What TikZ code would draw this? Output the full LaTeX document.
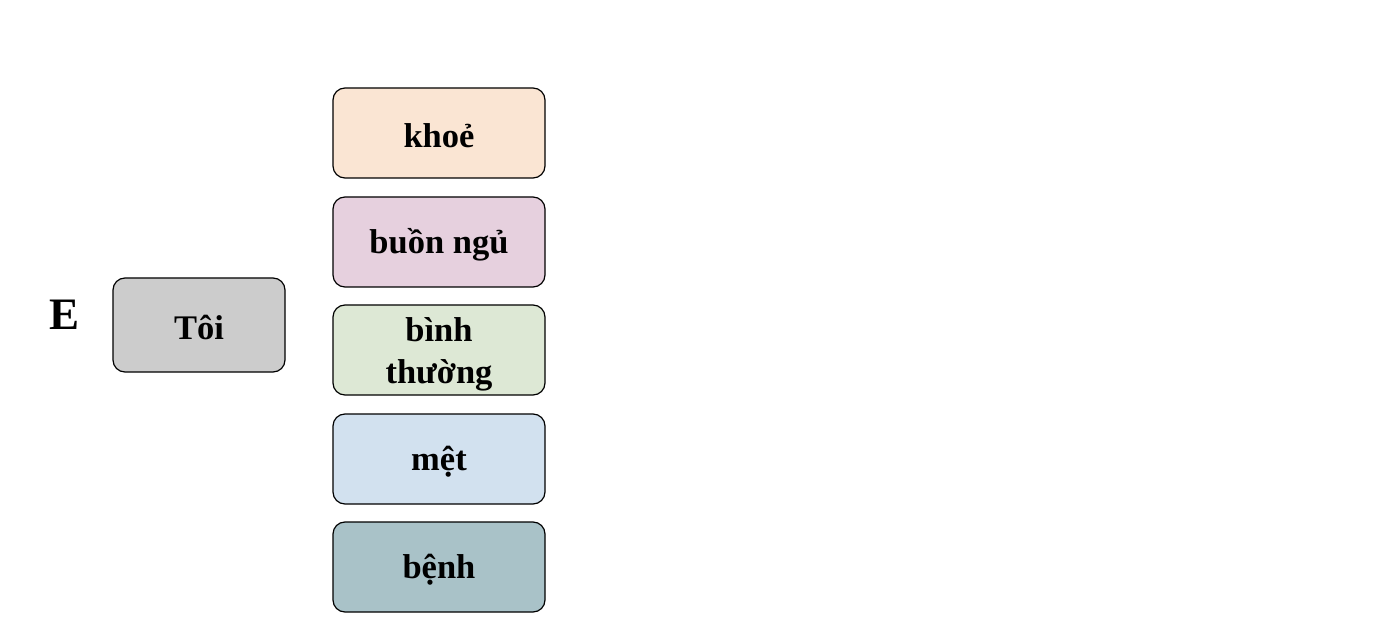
\documentclass[tikz,border=0pt]{standalone}
\usepackage{fontspec}
\setmainfont{Liberation Serif}
\begin{document}
\begin{tikzpicture}[x=1pt,y=-1pt,
  card/.style={draw=black, line width=1.2pt, rounded corners=12pt,
    minimum width=212pt, minimum height=90pt, inner sep=0pt},
  subj/.style={card, minimum width=172pt, minimum height=94pt},
  cardtext/.style={inner sep=0pt, font=\fontsize{34.5}{42}\selectfont\bfseries, align=center}]
\useasboundingbox (0,0) rectangle (1376,644);
\definecolor{cKhoe}{HTML}{FAE5D3}
\definecolor{cBuon}{HTML}{E6D0DE}
\definecolor{cBinh}{HTML}{DDE8D5}
\definecolor{cMet}{HTML}{D2E1EF}
\definecolor{cBenh}{HTML}{A9C2C8}
\definecolor{cToi}{HTML}{CCCCCC}
\node[font=\fontsize{45}{50}\selectfont\bfseries] (E) at (65,315) {E};
\node[subj, fill=cToi] (toi) at (199,325) {};
\node[cardtext] (toiT) at ([yshift=-3pt]toi.center) {Tôi};
\node[card, fill=cKhoe] (khoe) at (439,133) {};
\node[cardtext] (khoeT) at ([yshift=-3pt]khoe.center) {khoẻ};
\node[card, fill=cBuon] (buon) at (439,242) {};
\node[cardtext] (buonT) at ([yshift=-3pt]buon.center) {buồn ngủ};
\node[card, fill=cBinh] (binh) at (439,350) {};
\node[cardtext] (binhT) at ([yshift=-4pt]binh.center) {bình\\thường};
\node[card, fill=cMet] (met) at (439,459) {};
\node[cardtext] (metT) at ([yshift=-3pt]met.center) {mệt};
\node[card, fill=cBenh] (benh) at (439,567) {};
\node[cardtext] (benhT) at ([yshift=-3pt]benh.center) {bệnh};
\end{tikzpicture}
\end{document}
